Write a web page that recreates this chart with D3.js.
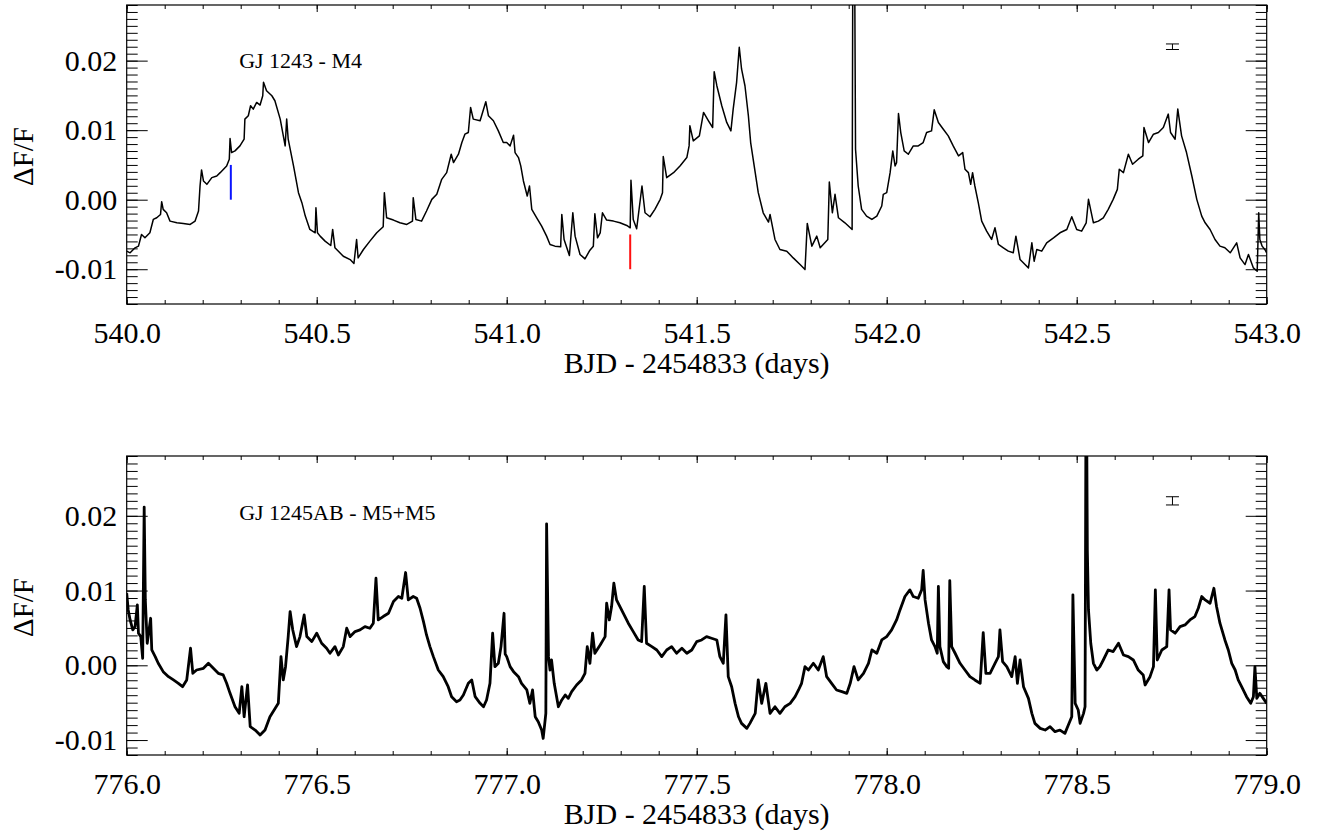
<!DOCTYPE html>
<html>
<head>
<meta charset="utf-8">
<script src="https://cdn.jsdelivr.net/npm/d3@7"></script>
<style>
  html, body { margin: 0; padding: 0; background: #fff; }
  svg { display: block; }
</style>
</head>
<body>
<svg id="chart" width="1330" height="833"></svg>
<script>
// Kepler short-cadence light curves, [BJD - 2454833 (days), ΔF/F in parts per thousand]
const gj1243 = [
  [540.000,-7.40],[540.009,-7.64],[540.022,-6.92],[540.031,-6.68],[540.039,-5.00],[540.048,-5.48],[540.061,-4.76],[540.070,-2.84],[540.079,-2.60],[540.089,-2.12],
  [540.092,-0.29],[540.096,-1.39],[540.105,-1.88],[540.114,-3.08],[540.132,-3.32],[540.149,-3.41],[540.167,-3.56],[540.180,-3.08],[540.189,-1.63],[540.193,1.97],
  [540.197,4.28],[540.202,2.69],[540.211,2.21],[540.224,3.17],[540.237,3.41],[540.246,3.89],[540.263,4.86],[540.270,5.82],[540.272,8.80],[540.276,6.78],
  [540.285,7.02],[540.298,7.74],[540.309,8.70],[540.311,11.59],[540.320,12.07],[540.326,13.51],[540.333,13.03],[540.342,13.99],[540.351,13.61],[540.358,14.95],
  [540.360,16.88],[540.368,15.67],[540.382,14.95],[540.390,14.23],[540.404,11.59],[540.417,7.74],[540.421,11.59],[540.425,8.70],[540.439,4.86],[540.452,1.01],
  [540.461,-0.43],[540.470,-2.36],[540.482,-4.28],[540.496,-4.76],[540.498,-1.15],[540.502,-4.76],[540.509,-5.24],[540.522,-5.96],[540.537,-6.59],[540.542,-4.28],
  [540.548,-6.92],[540.570,-8.13],[540.588,-8.61],[540.598,-9.18],[540.605,-5.72],[540.609,-8.37],[540.623,-7.16],[540.640,-5.96],[540.658,-4.76],[540.675,-3.89],
  [540.678,1.01],[540.684,-2.60],[540.702,-2.93],[540.719,-3.32],[540.737,-3.56],[540.752,-3.08],[540.754,0.29],[540.761,-2.84],[540.776,-3.08],[540.789,-1.63],
  [540.803,0.05],[540.816,0.77],[540.829,2.93],[540.842,3.89],[540.854,6.54],[540.860,5.34],[540.873,6.54],[540.882,8.22],[540.890,9.42],[540.899,9.66],
  [540.905,13.27],[540.912,11.59],[540.930,11.35],[540.945,14.09],[540.952,12.07],[540.965,11.35],[540.978,9.90],[540.991,8.22],
  [541.000,8.22],[541.009,7.74],[541.018,9.28],[541.022,6.78],[541.031,6.06],[541.037,4.86],[541.044,2.69],[541.054,0.53],[541.060,1.97],[541.066,-1.39],
  [541.079,-2.60],[541.092,-3.80],[541.105,-5.24],[541.114,-6.44],[541.127,-6.68],[541.142,-6.78],[541.145,-2.12],[541.151,-5.72],[541.165,-8.03],[541.174,-1.88],
  [541.180,-5.24],[541.193,-7.88],[541.206,-8.51],[541.219,-7.26],[541.228,-6.68],[541.232,-2.02],[541.239,-5.48],[541.246,-4.76],[541.252,-1.88],[541.263,-2.93],
  [541.281,-3.08],[541.298,-3.32],[541.316,-3.70],[541.325,-4.04],[541.327,2.79],[541.333,-2.84],[541.342,-4.18],[541.356,1.97],[541.364,-1.88],[541.377,-2.45],
  [541.390,-1.39],[541.404,0.05],[541.410,1.01],[541.412,6.20],[541.421,3.17],[541.439,3.89],[541.456,4.86],[541.474,6.06],[541.480,7.74],[541.482,10.63],
  [541.491,8.46],[541.507,9.18],[541.518,12.55],[541.531,11.35],[541.542,10.38],[541.546,18.41],[541.553,16.39],[541.566,13.51],[541.579,11.11],[541.590,9.90],
  [541.596,13.03],[541.605,16.88],[541.612,21.92],[541.618,18.80],[541.627,16.39],[541.636,12.07],[541.642,8.22],[541.654,3.89],[541.662,1.01],[541.675,-1.88],
  [541.689,-3.22],[541.693,-2.12],[541.706,-5.72],[541.719,-7.16],[541.737,-7.40],[541.754,-8.37],[541.772,-9.33],[541.785,-10.05],[541.791,-3.41],[541.803,-6.68],
  [541.816,-5.24],[541.825,-6.92],[541.845,-5.72],[541.849,2.55],[541.857,-1.88],[541.864,0.77],[541.873,-2.60],[541.890,-3.32],[541.909,-4.28],[541.912,60.0],
  [541.916,30.0],[541.918,7.26],[541.925,1.97],[541.934,-1.39],[541.947,-2.36],[541.961,-2.84],[541.974,-2.36],[541.987,-0.91],[541.991,0.77],
  [542.000,1.01],[542.009,3.89],[542.016,7.02],[542.022,4.86],[542.026,5.34],[542.031,12.40],[542.037,9.66],[542.046,7.02],[542.057,6.54],[542.070,7.74],
  [542.083,7.74],[542.096,8.22],[542.105,9.66],[542.118,9.90],[542.125,12.93],[542.136,11.11],[542.149,10.14],[542.162,9.18],[542.175,7.74],[542.189,6.30],
  [542.200,6.78],[542.206,4.38],[542.215,3.89],[542.221,2.21],[542.226,3.89],[542.232,1.97],[542.241,-0.43],[542.250,-3.08],[542.263,-4.52],[542.276,-5.72],
  [542.285,-4.04],[542.294,-6.44],[542.307,-6.92],[542.320,-7.40],[542.333,-7.64],[542.340,-5.24],[542.351,-8.61],[542.364,-9.33],[542.373,-9.81],[542.382,-6.20],
  [542.388,-8.85],[542.395,-7.16],[542.408,-7.40],[542.421,-6.20],[542.439,-5.48],[542.456,-4.76],[542.474,-4.28],[542.487,-2.45],[542.500,-4.28],[542.513,-4.52],
  [542.525,-3.32],[542.531,0.05],[542.544,-3.32],[542.557,-3.08],[542.570,-2.60],[542.583,-1.39],[542.596,0.05],[542.607,1.49],[542.612,4.38],[542.623,3.89],
  [542.636,6.54],[542.647,5.10],[542.662,5.82],[542.674,6.30],[542.677,10.38],[542.689,8.22],[542.702,9.42],[542.715,9.66],[542.728,10.38],[542.741,12.31],
  [542.747,9.66],[542.759,8.70],[542.766,13.03],[542.776,9.18],[542.789,6.78],[542.803,3.41],[542.816,0.05],[542.829,-2.36],[542.838,-3.32],[542.851,-4.28],
  [542.864,-5.72],[542.877,-6.68],[542.890,-6.92],[542.904,-7.64],[542.921,-6.20],[542.930,-8.37],[542.943,-9.33],[542.952,-7.88],[542.965,-9.81],[542.975,-10.29],
  [542.979,-1.88],[542.982,-5.72],[542.988,-6.68],[542.995,-7.16],[543.000,-7.64]
];

const gj1245ab = [
  [776.000,9.64],[776.004,7.41],[776.009,6.07],[776.016,4.73],[776.022,5.18],[776.028,8.08],[776.031,4.29],[776.037,3.84],[776.042,0.94],[776.046,21.16],
  [776.049,8.75],[776.054,2.95],[776.063,6.29],[776.066,2.05],[776.075,1.16],[776.083,0.27],[776.096,-0.85],[776.110,-1.52],[776.123,-1.96],[776.136,-2.41],
  [776.147,-2.86],[776.158,-1.96],[776.168,2.28],[776.174,-1.07],[776.184,-0.63],[776.202,-0.40],[776.215,0.27],[776.228,-0.40],[776.241,-1.07],[776.254,-1.29],
  [776.263,-2.41],[776.272,-3.75],[776.285,-5.54],[776.296,-6.43],[776.303,-2.86],[776.309,-6.88],[776.318,-2.63],[776.325,-8.21],[776.338,-8.66],[776.351,-9.33],
  [776.364,-8.66],[776.377,-6.88],[776.388,-5.98],[776.399,-5.09],[776.406,1.16],[776.412,-1.96],[776.418,-0.18],[776.425,3.84],[776.430,7.19],[776.437,4.73],
  [776.447,2.50],[776.456,3.84],[776.467,6.74],[776.474,3.84],[776.487,3.17],[776.500,4.29],[776.513,2.95],[776.526,2.28],[776.535,1.61],[776.548,2.50],
  [776.557,1.38],[776.570,2.50],[776.579,4.96],[776.588,3.84],[776.601,4.51],[776.614,4.73],[776.627,5.18],[776.640,4.96],[776.649,5.63],[776.656,11.65],
  [776.662,6.07],[776.675,6.52],[776.689,6.96],[776.702,8.53],[776.715,9.20],[776.724,8.97],[776.734,12.41],[776.741,8.75],[776.754,9.20],[776.763,8.97],
  [776.772,7.63],[776.781,5.85],[776.789,4.06],[776.798,2.50],[776.807,1.16],[776.820,-0.63],[776.833,-1.52],[776.846,-2.86],[776.855,-4.20],[776.868,-4.87],
  [776.877,-4.64],[776.886,-3.97],[776.899,-2.41],[776.908,-1.96],[776.917,-4.20],[776.930,-5.09],[776.939,-5.54],[776.947,-4.64],[776.956,-2.41],[776.963,4.29],
  [776.969,-0.18],[776.978,0.27],[776.985,2.50],[776.993,6.96],[776.996,1.50],
  [777.000,1.16],[777.009,-0.18],[777.018,-0.85],[777.031,-1.52],[777.039,-2.41],[777.053,-3.30],[777.061,-5.09],[777.068,-3.30],[777.075,-6.88],[777.083,-7.54],
  [777.092,-8.66],[777.096,-9.78],[777.103,-6.43],[777.105,18.93],[777.110,1.16],[777.114,-0.63],[777.118,0.71],[777.125,-2.41],[777.136,-5.54],[777.145,-4.64],
  [777.154,-3.97],[777.162,-4.42],[777.171,-3.53],[777.184,-2.63],[777.197,-1.96],[777.206,-1.07],[777.212,2.50],[777.219,0.27],[777.226,4.29],[777.232,1.61],
  [777.246,2.72],[777.259,3.84],[777.263,8.30],[777.270,6.07],[777.276,7.86],[777.282,10.98],[777.289,8.75],[777.298,7.86],[777.307,6.96],[777.320,5.63],
  [777.333,4.51],[777.346,3.39],[777.355,3.17],[777.362,10.54],[777.368,2.95],[777.382,2.50],[777.395,2.05],[777.408,1.16],[777.421,2.05],[777.434,2.50],
  [777.447,1.61],[777.461,2.28],[777.474,1.61],[777.487,2.05],[777.500,3.17],[777.513,3.39],[777.526,3.84],[777.539,3.62],[777.553,3.39],[777.561,1.16],
  [777.570,0.27],[777.577,6.74],[777.583,-1.52],[777.592,-2.86],[777.601,-5.09],[777.610,-6.88],[777.618,-7.77],[777.632,-8.44],[777.640,-7.77],[777.654,-6.43],
  [777.662,-1.96],[777.671,-5.09],[777.682,-2.41],[777.693,-6.43],[777.706,-5.54],[777.719,-6.43],[777.732,-5.54],[777.746,-5.09],[777.759,-4.20],[777.768,-3.30],
  [777.776,-2.41],[777.785,-0.18],[777.794,-0.63],[777.807,0.27],[777.820,-0.63],[777.833,1.16],[777.842,-1.52],[777.855,-2.41],[777.868,-3.30],[777.882,-3.53],
  [777.895,-3.75],[777.904,-2.41],[777.914,-0.18],[777.925,-1.96],[777.939,-1.07],[777.952,0.27],[777.961,2.05],[777.974,1.61],[777.987,3.39],
  [778.000,3.84],[778.013,4.73],[778.026,6.07],[778.035,7.41],[778.048,9.20],[778.061,10.09],[778.070,9.20],[778.083,8.97],[778.092,10.09],[778.096,12.68],
  [778.101,8.75],[778.110,5.63],[778.118,3.39],[778.127,2.50],[778.133,1.61],[778.136,10.54],[778.140,2.50],[778.149,0.49],[778.158,-0.18],[778.163,-0.40],
  [778.166,11.34],[778.171,2.50],[778.180,1.61],[778.193,0.27],[778.206,-0.63],[778.219,-1.52],[778.232,-1.96],[778.246,-2.41],[778.254,4.38],[778.261,-1.07],
  [778.272,-1.07],[778.285,0.27],[778.294,1.16],[778.298,4.73],[778.305,0.49],[778.316,-0.18],[778.329,-1.52],[778.338,1.16],[778.344,-2.41],[778.351,0.71],
  [778.360,-2.86],[778.373,-4.42],[778.382,-6.43],[778.390,-7.77],[778.404,-8.44],[778.417,-8.66],[778.430,-8.21],[778.443,-8.88],[778.456,-8.66],[778.469,-9.11],
  [778.478,-7.99],[778.487,-6.88],[778.490,9.42],[778.496,-5.09],[778.504,-5.98],[778.509,-7.77],[778.518,-6.43],[778.522,-5.54],[778.525,45.0],[778.528,15.40],
  [778.531,7.41],[778.537,2.95],[778.544,0.27],[778.553,-0.63],[778.561,-0.18],[778.570,0.71],[778.583,2.05],[778.596,1.83],[778.610,2.95],[778.623,1.38],
  [778.636,1.16],[778.649,0.71],[778.662,-0.63],[778.675,-1.29],[778.680,-2.63],[778.693,-1.52],[778.702,-0.18],[778.707,10.09],[778.712,0.71],[778.724,2.05],
  [778.737,2.50],[778.743,10.09],[778.747,4.73],[778.759,4.29],[778.772,5.18],[778.785,5.40],[778.798,6.07],[778.811,6.52],[778.820,7.63],[778.829,9.20],
  [778.838,8.75],[778.851,8.30],[778.861,10.31],[778.868,7.86],[778.877,5.63],[778.890,3.39],[778.899,2.05],[778.908,0.27],[778.917,-0.63],[778.925,-1.96],
  [778.934,-2.86],[778.947,-4.20],[778.958,-5.09],[778.965,-4.20],[778.969,-0.18],[778.974,-4.42],[778.982,-3.75],[778.991,-4.42],[779.000,-5.09]
];

// Axis ticks and labels
const xMajor1243 = [540.0, 540.5, 541.0, 541.5, 542.0, 542.5, 543.0];
const xMajor1245 = [776.0, 776.5, 777.0, 777.5, 778.0, 778.5, 779.0];
const yMajorTicks = [-0.01, 0.00, 0.01, 0.02];
const xTitle = "BJD - 2454833 (days)";
const yTitle = "ΔF/F";
const starNames = ["GJ 1243 - M4", "GJ 1245AB - M5+M5"];

// Typical per-point uncertainty (ΔF/F) shown beside each curve
const typicalError = [0.0004, 0.00055];
// Reference markers on the GJ 1243 curve: [time, ΔF/F from, ΔF/F to]
const blueMarker = [540.274, 0.000, 0.005];
const redMarker = [541.325, -0.005, -0.010];

const SERIF = '"Liberation Serif", "Times New Roman", Times, serif';
const svg = d3.select("#chart");
svg.append("rect").attr("width", 1330).attr("height", 833).attr("fill", "#fff");

const plotLeft = 126.7, plotRight = 1266.7;

const panels = [
  { id: "p1243", data: gj1243, xDomain: [540, 543], yDomain: [-0.015, 0.028], top: 5, bottom: 304,
    xMajor: xMajor1243, name: starNames[0], nameAt: [540.296, 0.0189],
    errAt: [542.752, 0.022], err: typicalError[0], lineWidth: 1.5 },
  { id: "p1245", data: gj1245ab, xDomain: [776, 779], yDomain: [-0.012, 0.028], top: 456, bottom: 755,
    xMajor: xMajor1245, name: starNames[1], nameAt: [776.296, 0.0194],
    errAt: [778.752, 0.022], err: typicalError[1], lineWidth: 2.8 }
];

function minorTicks(lo, hi, step) {
  const out = [];
  const n = Math.round((hi - lo) / step);
  for (let i = 0; i <= n; i++) out.push(+(lo + i * step).toFixed(6));
  return out;
}

panels.forEach((p, idx) => {
  const x = d3.scaleLinear().domain(p.xDomain).range([plotLeft, plotRight]);
  const y = d3.scaleLinear().domain(p.yDomain).range([p.bottom, p.top]);
  const g = svg.append("g");

  g.append("clipPath").attr("id", "clip-" + p.id)
    .append("rect")
    .attr("x", plotLeft).attr("y", p.top)
    .attr("width", plotRight - plotLeft).attr("height", p.bottom - p.top);

  // light curve, straight segments between cadences
  const line = d3.line().x(d => x(d[0])).y(d => y(d[1] / 1000));
  g.append("path")
    .datum(p.data)
    .attr("clip-path", `url(#clip-${p.id})`)
    .attr("d", line)
    .attr("fill", "none")
    .attr("stroke", "#000")
    .attr("stroke-width", p.lineWidth)
    .attr("stroke-linejoin", "round");

  const xMinor = minorTicks(p.xDomain[0], p.xDomain[1], 0.1);
  const yMinor = minorTicks(Math.ceil(p.yDomain[0] * 1000) / 1000, p.yDomain[1], 0.001);

  const styleAxis = sel => {
    sel.attr("font-family", SERIF).attr("font-size", 30);
    sel.select(".domain").remove();
    sel.selectAll("line").attr("stroke", "#000").attr("stroke-width", 1);
    sel.selectAll("text").attr("fill", "#000");
  };

  // bottom axis
  g.append("g").attr("transform", `translate(0,${p.bottom})`)
    .call(d3.axisBottom(x).tickValues(xMinor).tickSize(-4).tickFormat(""))
    .call(styleAxis);
  g.append("g").attr("transform", `translate(0,${p.bottom})`)
    .call(d3.axisBottom(x).tickValues(p.xMajor).tickSize(-7).tickPadding(17.8).tickFormat(d => d.toFixed(1)))
    .call(styleAxis);
  // top axis
  g.append("g").attr("transform", `translate(0,${p.top})`)
    .call(d3.axisTop(x).tickValues(xMinor).tickSize(-4).tickFormat(""))
    .call(styleAxis);
  g.append("g").attr("transform", `translate(0,${p.top})`)
    .call(d3.axisTop(x).tickValues(p.xMajor).tickSize(-7).tickFormat(""))
    .call(styleAxis);
  // left axis
  g.append("g").attr("transform", `translate(${plotLeft},0)`)
    .call(d3.axisLeft(y).tickValues(yMinor).tickSize(-11).tickFormat(""))
    .call(styleAxis);
  g.append("g").attr("transform", `translate(${plotLeft},0)`)
    .call(d3.axisLeft(y).tickValues(yMajorTicks).tickSize(-21).tickPadding(9.5).tickFormat(d => d.toFixed(2)))
    .call(styleAxis);
  // right axis
  g.append("g").attr("transform", `translate(${plotRight},0)`)
    .call(d3.axisRight(y).tickValues(yMinor).tickSize(-11).tickFormat(""))
    .call(styleAxis);
  g.append("g").attr("transform", `translate(${plotRight},0)`)
    .call(d3.axisRight(y).tickValues(yMajorTicks).tickSize(-21).tickFormat(""))
    .call(styleAxis);

  // frame
  g.append("rect")
    .attr("x", plotLeft).attr("y", p.top)
    .attr("width", plotRight - plotLeft).attr("height", p.bottom - p.top)
    .attr("fill", "none").attr("stroke", "#000").attr("stroke-width", 1.2);

  // axis titles
  g.append("text")
    .attr("x", (plotLeft + plotRight) / 2).attr("y", p.bottom + 69)
    .attr("text-anchor", "middle")
    .attr("font-family", SERIF).attr("font-size", 30).attr("fill", "#000")
    .text(xTitle);
  g.append("text")
    .attr("transform", `translate(33,${(p.top + p.bottom) / 2 + 2}) rotate(-90)`)
    .attr("text-anchor", "middle")
    .attr("font-family", SERIF).attr("font-size", 29).attr("fill", "#000")
    .text(yTitle);

  // star name
  g.append("text")
    .attr("x", x(p.nameAt[0])).attr("y", y(p.nameAt[1]))
    .attr("font-family", SERIF).attr("font-size", 22).attr("fill", "#000")
    .text(p.name);

  // typical error bar
  const ex = x(p.errAt[0]);
  const eb = g.append("g").attr("stroke", "#000").attr("stroke-width", 1);
  eb.append("line").attr("x1", ex).attr("x2", ex)
    .attr("y1", y(p.errAt[1] - p.err)).attr("y2", y(p.errAt[1] + p.err));
  [p.errAt[1] - p.err, p.errAt[1] + p.err].forEach(v => {
    eb.append("line").attr("x1", ex - 6.5).attr("x2", ex + 6.5)
      .attr("y1", y(v)).attr("y2", y(v));
  });

  // reference markers on the GJ 1243 curve
  if (idx === 0) {
    [[blueMarker, "#0a14ff"], [redMarker, "#ff1010"]].forEach(([m, c]) => {
      g.append("line")
        .attr("x1", x(m[0])).attr("x2", x(m[0]))
        .attr("y1", y(m[1])).attr("y2", y(m[2]))
        .attr("stroke", c).attr("stroke-width", 2);
    });
  }
});
</script>
</body>
</html>
